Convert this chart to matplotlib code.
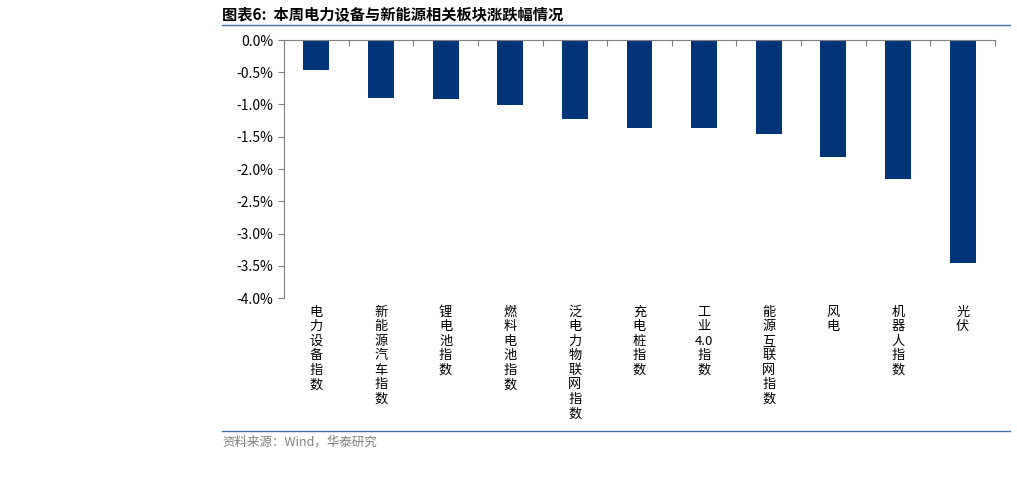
import matplotlib.pyplot as plt
from matplotlib.lines import Line2D

plt.rcParams['font.family'] = ['Noto Sans CJK SC', 'DejaVu Sans']

categories = ['电力设备指数', '新能源汽车指数', '锂电池指数', '燃料电池指数', '泛电力物联网指数',
              '充电桩指数', '工业4.0指数', '能源互联网指数', '风电', '机器人指数', '光伏']
values = [-0.47, -0.90, -0.92, -1.01, -1.23, -1.36, -1.37, -1.46, -1.82, -2.15, -3.45]
yticks = [0, -0.5, -1.0, -1.5, -2.0, -2.5, -3.0, -3.5, -4.0]

fig = plt.figure(figsize=(10.17, 4.94), dpi=100)
ax = fig.add_axes([284 / 1017, 1 - 298 / 494, 711 / 1017, 258 / 494])

x = list(range(len(categories)))
ax.bar(x, values, width=0.4, color='#003478')
ax.set_xlim(-0.5, len(categories) - 0.5)
ax.set_ylim(-4.0, 0)
ax.set_yticks(yticks)
ax.set_yticklabels([f'{v:.1f}%' for v in yticks], fontsize=10)
for s in ['right', 'bottom']:
    ax.spines[s].set_visible(False)
ax.spines['top'].set_color('#808080')
ax.spines['left'].set_color('#808080')
ax.xaxis.tick_top()
ax.set_xticks([i - 0.5 for i in range(len(categories) + 1)])
ax.set_xticklabels([])
ax.tick_params(axis='x', direction='in', length=4, color='#808080')
ax.tick_params(axis='y', direction='out', length=4, color='#808080')

def stack(name):
    return '\n'.join(name.replace('4.0', '\x00').split('\x00')[0]) + (
        '\n4.0\n' + '\n'.join(name.split('4.0')[1]) if '4.0' in name else '')

for i, name in enumerate(categories):
    ax.text(i, -4.12, stack(name), ha='center', va='top', fontsize=9.5, linespacing=1.15)

fig.text(222 / 1017, 1 - 14 / 494, '图表6:  本周电力设备与新能源相关板块涨跌幅情况',
         fontsize=11, fontweight='bold', va='center')
fig.add_artist(Line2D([222 / 1017, 1010 / 1017], [1 - 25 / 494] * 2, color='#4a6fa5', lw=1))
fig.add_artist(Line2D([222 / 1017, 1010 / 1017], [1 - 431 / 494] * 2, color='#4a6fa5', lw=1))
fig.text(222 / 1017, 1 - 442 / 494, '资料来源：Wind，华泰研究', fontsize=9, color='#808080', va='center')

fig.savefig('out.png', dpi=100)
